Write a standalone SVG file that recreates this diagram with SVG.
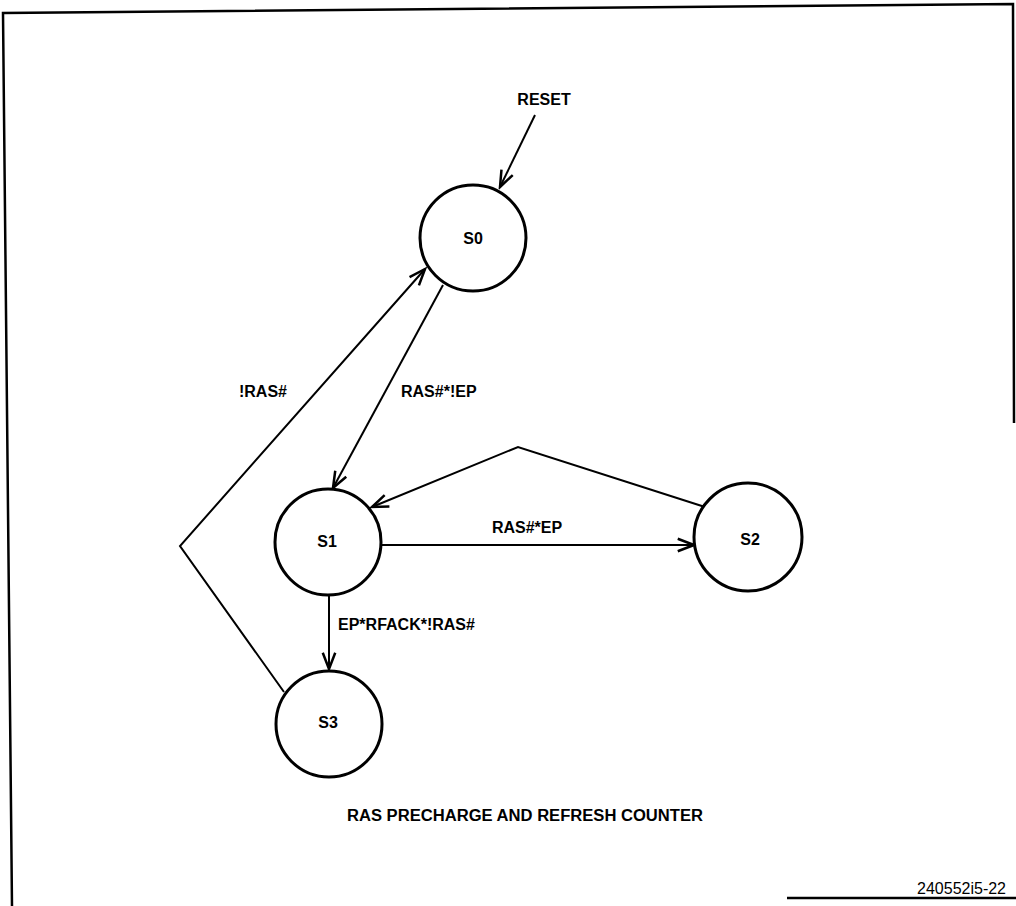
<svg xmlns="http://www.w3.org/2000/svg" width="1016" height="906" viewBox="0 0 1016 906">
<style>
.node{fill:#fff;stroke:#000;stroke-width:3}
.lbl{font-family:"Liberation Sans",Arial,sans-serif;font-weight:bold;font-size:16px;fill:#000}
.edge{fill:none;stroke:#000;stroke-width:2}
.frame{fill:none;stroke:#000;stroke-width:2.5}
</style>
<defs>
<marker id="arr" markerUnits="userSpaceOnUse" markerWidth="20" markerHeight="20" viewBox="-14 -7 16 14" refX="0" refY="0" orient="auto">
<path d="M-13,-5 L0,0 L-13,5" fill="none" stroke="#000" stroke-width="2"/>
</marker>
</defs>
<rect width="1016" height="906" fill="#fff"/>
<g id="frame">
<polyline class="frame" points="12,906 3,13 1013,4 1014,423"/>
<line class="frame" x1="787" y1="898" x2="1016" y2="898"/>
</g>
<g id="connectors">
<line class="edge" x1="535" y1="115" x2="500" y2="187" marker-end="url(#arr)"/>
<line class="edge" x1="443" y1="285" x2="333" y2="488" marker-end="url(#arr)"/>
<polyline class="edge" points="284,692 180,546 425,269" marker-end="url(#arr)"/>
<polyline class="edge" points="705,507 518,447 372,507" marker-end="url(#arr)"/>
<line class="edge" x1="381" y1="545" x2="694" y2="545" marker-end="url(#arr)"/>
<line class="edge" x1="329" y1="596" x2="329" y2="669" marker-end="url(#arr)"/>
<text class="lbl" x="544" y="105" text-anchor="middle">RESET</text>
<text class="lbl" x="263" y="397" text-anchor="middle">!RAS#</text>
<text class="lbl" x="401" y="397">RAS#*!EP</text>
<text class="lbl" x="527" y="533" text-anchor="middle">RAS#*EP</text>
<text class="lbl" x="338" y="630">EP*RFACK*!RAS#</text>
</g>
<g id="S0"><circle class="node" cx="473" cy="238" r="53"/><text class="lbl" x="473" y="244" text-anchor="middle">S0</text></g>
<g id="S1"><circle class="node" cx="328" cy="542" r="53"/><text class="lbl" x="327" y="547" text-anchor="middle">S1</text></g>
<g id="S2"><circle class="node" cx="748" cy="537" r="54"/><text class="lbl" x="750" y="545" text-anchor="middle">S2</text></g>
<g id="S3"><circle class="node" cx="329" cy="724" r="53"/><text class="lbl" x="328" y="728" text-anchor="middle">S3</text></g>
<g id="captions">
<text class="lbl" x="347" y="821" font-size="15" textLength="356" lengthAdjust="spacingAndGlyphs">RAS PRECHARGE AND REFRESH COUNTER</text>
<text x="1006" y="894" text-anchor="end" font-family="Liberation Sans,Arial,sans-serif" font-size="16">240552i5-22</text>
</g>
</svg>
